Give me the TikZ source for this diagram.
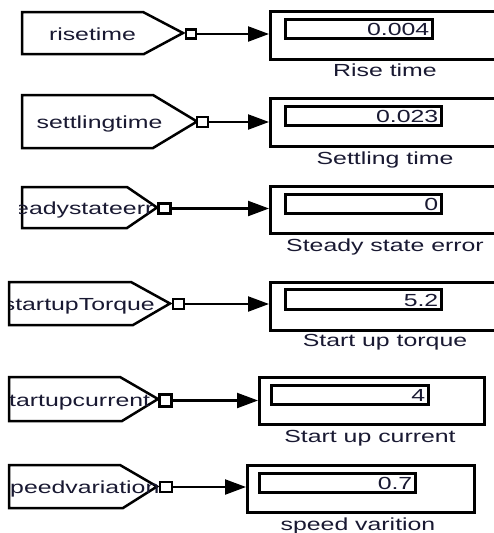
\documentclass[tikz,border=0pt]{standalone}
\usepackage{fontspec}
\setmainfont{Liberation Sans}
\usetikzlibrary{arrows.meta}
\definecolor{ink}{RGB}{25,25,50}
% wide, flat lettering used by the block labels
\newcommand\wide[1]{\scalebox{1.42}[1]{#1}}
\tikzset{
  tag/.style={line width=2.5pt, line join=miter},
  port/.style={draw, line width=2.3pt, fill=white, inner sep=0pt,
               minimum width=10pt, minimum height=9pt},
  disp/.style={draw, line width=3pt, anchor=north west, inner sep=0pt},
  field/.style={draw, line width=2.5pt, anchor=north west, inner sep=0pt},
  wire/.style={line width=2.2pt, -{Triangle[length=21pt,width=15pt]}},
  txt/.style={font=\fontsize{17.5}{20}\selectfont, text=ink, inner sep=0pt},
  reading/.style={txt, anchor=base east},
}
\begin{document}
\begin{tikzpicture}[x=1pt,y=-1pt]
\clip (0,0) rectangle (494,533);
\fill[white] (0,0) rectangle (494,533);

% ---- rise time ----
\draw[tag] (22,12) -- (143,12) -- (183,33) -- (144,54) -- (22,54) -- cycle;
\node[txt, anchor=base] (t1) at (92.5,40) {\wide{risetime}};
\node[port] (p1) at (191,34) {};
\node[disp, minimum width=240, minimum height=48] (d1) at (269,10) {};
\node[field, minimum width=147, minimum height=19] (f1) at (284,18) {};
\node[reading] (v1) at ([shift={(-4,-4)}]f1.south east) {\wide{0.004}};
\node[txt, anchor=base] (l1) at (385,76) {\wide{Rise time}};
\draw[wire] (p1.east) -- (p1.east -| d1.west);

% ---- settling time ----
\draw[tag] (22,95) -- (153,95) -- (197,121.5) -- (153,148) -- (22,148) -- cycle;
\node[txt, anchor=base] (t2) at (99.5,128) {\wide{settlingtime}};
\node[port, minimum width=11pt, minimum height=10pt] (p2) at (202.5,122) {};
\node[disp, minimum width=240, minimum height=48] (d2) at (269,97) {};
\node[field, minimum width=156, minimum height=19] (f2) at (284,105) {};
\node[reading] (v2) at ([shift={(-4,-4)}]f2.south east) {\wide{0.023}};
\node[txt, anchor=base] (l2) at (385,164) {\wide{Settling time}};
\draw[wire] (p2.east) -- (p2.east -| d2.west);

% ---- steady state error ----
\draw[tag] (22,187) -- (127,187) -- (157,207.5) -- (127,228) -- (22,228) -- cycle;
\begin{scope}
  \clip (19,187) rectangle (170,228);
  \node[txt, anchor=base west] (t3) at (15,214) {\wide{eadystateerr}};
\end{scope}
\node[port, minimum width=12pt, minimum height=10pt] (p3) at (164.5,208.5) {};
\node[disp, minimum width=240, minimum height=47] (d3) at (269,185) {};
\node[field, minimum width=156, minimum height=19] (f3) at (284,193) {};
\node[reading] (v3) at ([shift={(-4,-4)}]f3.south east) {\wide{0}};
\node[txt, anchor=base] (l3) at (385,251) {\wide{Steady state error}};
\draw[wire] (p3.east) -- (p3.east -| d3.west);

% ---- start up torque ----
\draw[tag] (9,282) -- (131,282) -- (170,303.5) -- (133,325) -- (9,325) -- cycle;
\begin{scope}
  \clip (10,282) rectangle (180,325);
  \node[txt, anchor=base east] (t4) at (155,310) {\wide{startupTorque}};
\end{scope}
\node[port, minimum width=11pt, minimum height=10pt] (p4) at (178.5,304) {};
\node[disp, minimum width=240, minimum height=48] (d4) at (269,281) {};
\node[field, minimum width=156, minimum height=20] (f4) at (284,288) {};
\node[reading] (v4) at ([shift={(-4,-4)}]f4.south east) {\wide{5.2}};
\node[txt, anchor=base] (l4) at (385,346) {\wide{Start up torque}};
\draw[wire] (p4.east) -- (p4.east -| d4.west);

% ---- start up current ----
\draw[tag] (9,377) -- (120,377) -- (158,399) -- (122,421) -- (9,421) -- cycle;
\begin{scope}
  \clip (10,377) rectangle (170,421);
  \node[txt, anchor=base west] (t5) at (9,406) {\wide{tartupcurrent}};
\end{scope}
\node[port, minimum width=12pt, minimum height=12pt] (p5) at (165.5,400.5) {};
\node[disp, minimum width=225, minimum height=47] (d5) at (258,376) {};
\node[field, minimum width=157, minimum height=19] (f5) at (270,384) {};
\node[reading] (v5) at ([shift={(-4,-4)}]f5.south east) {\wide{4}};
\node[txt, anchor=base] (l5) at (370,442) {\wide{Start up current}};
\draw[wire] (p5.east) -- (p5.east -| d5.west);

% ---- speed variation ----
\draw[tag] (9,465) -- (120,465) -- (157,486.5) -- (123,508) -- (9,508) -- cycle;
\begin{scope}
  \clip (10,465) rectangle (170,508);
  \node[txt, anchor=base west] (t6) at (10,493) {\wide{peedvariation}};
\end{scope}
\node[port, minimum width=12pt, minimum height=10pt] (p6) at (166,487) {};
\node[disp, minimum width=227, minimum height=47] (d6) at (246,464) {};
\node[field, minimum width=156, minimum height=19] (f6) at (258,472) {};
\node[reading] (v6) at ([shift={(-4,-4)}]f6.south east) {\wide{0.7}};
\node[txt, anchor=base] (l6) at (358,530) {\wide{speed varition}};
\draw[wire] (p6.east) -- (p6.east -| d6.west);
\end{tikzpicture}
\end{document}
